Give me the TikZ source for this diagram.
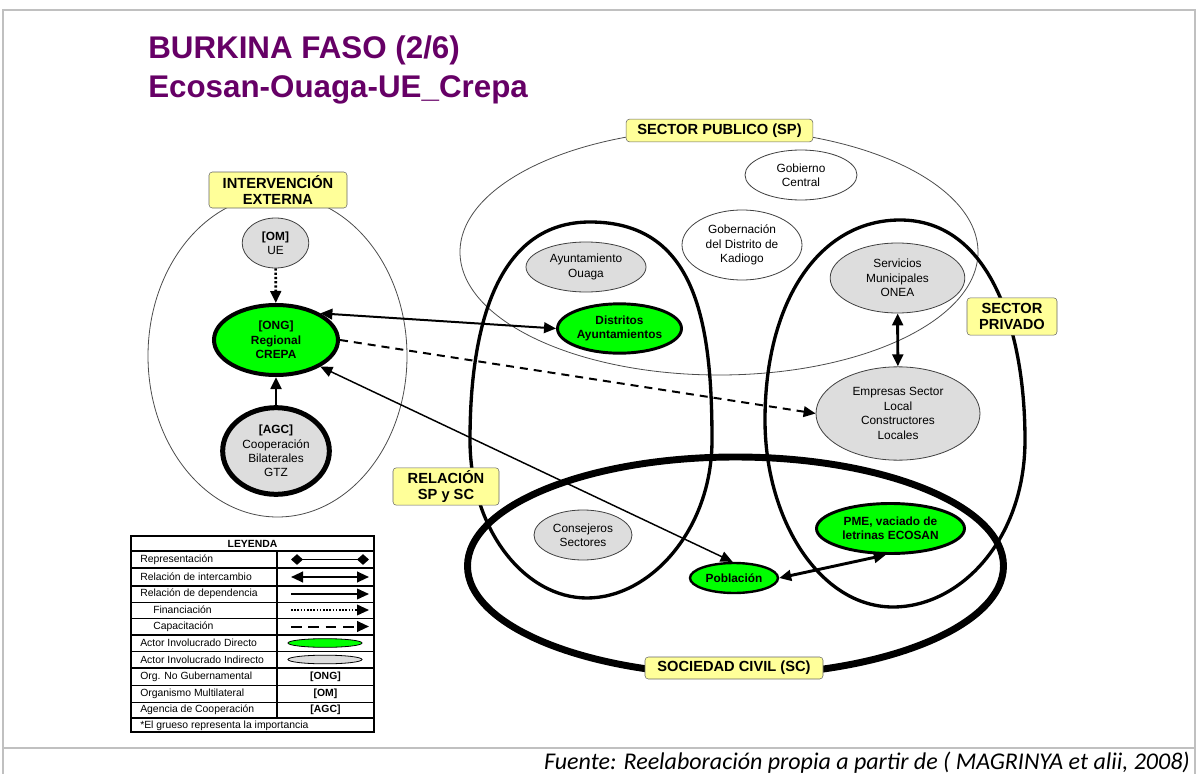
\documentclass[tikz,border=0pt]{standalone}
\usepackage{fontspec}
\setmainfont{Liberation Sans}
\newfontfamily\calibri{Carlito}
\usetikzlibrary{arrows.meta,shapes.geometric}
\definecolor{verde}{HTML}{00FF00}
\definecolor{gris}{HTML}{DDDDDD}
\definecolor{amarillo}{HTML}{FFFF99}
\definecolor{morado}{HTML}{660066}
\definecolor{marco}{HTML}{C0C0C0}
\begin{document}
\begin{tikzpicture}[x=0.75pt,y=-0.75pt,
 actor/.style={ellipse,inner sep=0pt,align=center,font=\fontsize{8.9}{10.8}\selectfont},
 indirecto/.style={actor,draw=black!75,fill=gris,line width=0.6pt},
 externo/.style={actor,draw=black!75,fill=white,line width=0.6pt},
 directo/.style={actor,draw=black,fill=verde,font=\fontsize{8.9}{10.8}\selectfont\bfseries},
 etiqueta/.style={draw=black!60,fill=amarillo,rounded corners=2.5pt,inner sep=0pt,align=center,font=\fontsize{11}{12.5}\selectfont\bfseries},
 leyfont/.style={font=\fontsize{7.8}{9}\selectfont,inner sep=0pt},
 titulo/.style={anchor=base west,inner sep=0pt,font=\fontsize{23.5}{28}\selectfont\bfseries,text=morado},
 >={Triangle[length=9pt,width=8pt]}]
\useasboundingbox (0,0) rectangle (1197,774);
\draw[marco,line width=1.5pt](3,774)--(3,10)--(1195,10)--(1195,774);%marco
\draw[marco,line width=1.5pt](3,748)--(1195,748);
\node[titulo](tit1) at (148,59){BURKINA FASO (2/6)};
\node[titulo](tit2) at (148,98){Ecosan-Ouaga-UE\_Crepa};
%conjuntos
\draw[black!70,line width=0.6pt](277.5,356)ellipse[x radius=129.5,y radius=161];%intervencion externa
\draw[black!70,line width=0.6pt](719,252)ellipse[x radius=259,y radius=123];%sector publico
\draw[line width=2.5pt](590,222)..controls(695,222)and(712,320)..(712,440)..controls(712,530)and(650,598)..(587,598)..controls(525,598)and(470,530)..(470,440)..controls(470,320)and(500,222)..cycle;%relacion SP y SC
\draw[line width=2.5pt](900,220)..controls(990,220)and(1025,330)..(1025,440)..controls(1025,540)and(960,607)..(893,607)..controls(820,607)and(765,520)..(765,420)..controls(765,300)and(820,220)..cycle;%sector privado
\draw[line width=5.2pt](735.5,566)ellipse[x radius=268,y radius=109];%sociedad civil
%actores
\node[indirecto,minimum width=50pt,minimum height=37.5pt](ue) at (275.5,243){\textbf{[OM]}\\UE};
\node[directo,line width=3pt,minimum width=93pt,minimum height=52.5pt](crepa) at (276,340){[ONG]\\Regional\\CREPA};
\node[indirecto,draw=black,line width=3.75pt,minimum width=80pt,minimum height=65pt](agc) at (276,451){\textbf{[AGC]}\\Cooperación\\Bilaterales\\GTZ};
\node[externo,minimum width=84pt,minimum height=37.5pt](gob) at (801,175){Gobierno\\Central};
\node[externo,minimum width=90pt,minimum height=52.5pt](gobdis) at (742,245){Gobernación\\del Distrito de\\Kadiogo};
\node[indirecto,minimum width=90pt,minimum height=37.5pt](ayto) at (586,267){Ayuntamiento\\Ouaga};
\node[directo,line width=2.2pt,minimum width=93pt,minimum height=37pt](dist) at (619.5,328.5){Distritos\\Ayuntamientos};
\node[indirecto,minimum width=101pt,minimum height=52.5pt](serv) at (897.5,278){Servicios\\Municipales\\ONEA};
\node[indirecto,minimum width=123pt,minimum height=70pt](emp) at (898,413.5){Empresas Sector\\Local\\Constructores\\Locales};
\node[indirecto,minimum width=73.5pt,minimum height=37.5pt](cons) at (583,535){Consejeros\\Sectores};
\node[directo,line width=1.8pt,minimum width=66pt,minimum height=22.5pt](pob) at (734,578){Población};
\node[directo,line width=2.2pt,minimum width=111pt,minimum height=37.5pt](pme) at (890.5,528.5){PME, vaciado de\\letrinas ECOSAN};
%etiquetas
\node[etiqueta,minimum width=103.5pt,minimum height=27pt](lblie) at (278,190){INTERVENCIÓN\\EXTERNA};
\node[etiqueta,minimum width=140pt,minimum height=17pt](lblsp) at (719.5,130.5){SECTOR PUBLICO (SP)};
\node[etiqueta,minimum width=67.5pt,minimum height=28pt](lblpriv) at (1012,316.5){SECTOR\\PRIVADO};
\node[etiqueta,minimum width=79.5pt,minimum height=28pt](lblrel) at (446,486.5){RELACIÓN\\SP y SC};
\node[etiqueta,minimum width=133.5pt,minimum height=16.5pt](lblsc) at (734,668){SOCIEDAD CIVIL (SC)};
%relaciones
\draw[->,line width=2pt,dash pattern=on 1.6pt off 1.6pt](ue)--(crepa);%financiacion
\draw[->,line width=2pt](agc)--(crepa);
\draw[<->,line width=1.5pt](crepa.31)--(dist.west);
\draw[<->,line width=1.1pt](crepa.-31)--(pob.95);
\draw[->,line width=1.5pt,dash pattern=on 6pt off 4.5pt](crepa.east)--(emp.west);%capacitacion
\draw[<->,line width=2.2pt](serv)--(emp);
\draw[<->,line width=2.2pt](pob.east)--(pme.-100);
%leyenda
\draw[line width=1.5pt](131,536)rectangle(374,732);
\foreach \y in {551,568,586,635,668,718}\draw[line width=1.2pt](131,\y)--(374,\y);
\foreach \y in {602,618,651,685,702}\draw[line width=0.6pt](131,\y)--(374,\y);
\draw[line width=0.8pt](277,551)--(277,718);
\node[leyfont,font=\fontsize{7.8}{9}\selectfont\bfseries](leyenda) at (252.5,543.5){LEYENDA};
\foreach \t/\x/\y [count=\i] in {Representación/140/559.5,Relación de intercambio/140/577,Relación de dependencia/140/594,Financiación/153/610,Capacitación/153/626.5,Actor Involucrado Directo/140/643,Actor Involucrado Indirecto/140/659.5,Org. No Gubernamental/140/676.5,Organismo Multilateral/140/693.5,Agencia de Cooperación/140/710,*El grueso representa la importancia/140/725.5}
 \node[leyfont,anchor=west](ley\i) at (\x,\y){\t};
\foreach \y [count=\i] in {559.5,577,594,610,626.5}{\coordinate(ia\i) at (291,\y);\coordinate(ib\i) at (369,\y);}
\draw[{Diamond[length=9pt,width=8pt]}-{Diamond[length=9pt,width=8pt]},line width=1pt](ia1)--(ib1);
\draw[<->,line width=1.5pt](ia2)--(ib2);
\draw[->,line width=1.2pt](ia3)--(ib3);
\draw[->,line width=1.2pt,dash pattern=on 1.2pt off 1.2pt](ia4)--(ib4);
\draw[->,line width=1.5pt,dash pattern=on 8pt off 5pt](ia5)--(ib5);
\node[ellipse,draw,fill=verde,line width=0.6pt,minimum width=55.5pt,minimum height=6.5pt,inner sep=0pt](mdir) at (325,643){};
\node[ellipse,draw,fill=gris,line width=0.6pt,minimum width=55.5pt,minimum height=6.5pt,inner sep=0pt](mind) at (325,659.5){};
\node[leyfont,font=\fontsize{7.8}{9}\selectfont\bfseries](kong) at (325.5,676.5){[ONG]};
\node[leyfont,font=\fontsize{7.8}{9}\selectfont\bfseries](kom) at (325.5,693.5){[OM]};
\node[leyfont,font=\fontsize{7.8}{9}\selectfont\bfseries](kagc) at (325.5,710){[AGC]};
%fuente
\node[anchor=base east,font=\calibri\itshape\fontsize{18}{21}\selectfont,inner sep=0pt](fuente) at (1190,769){Fuente: Reelaboración propia a partir de ( MAGRINYA et alii, 2008)};
\end{tikzpicture}
\end{document}
